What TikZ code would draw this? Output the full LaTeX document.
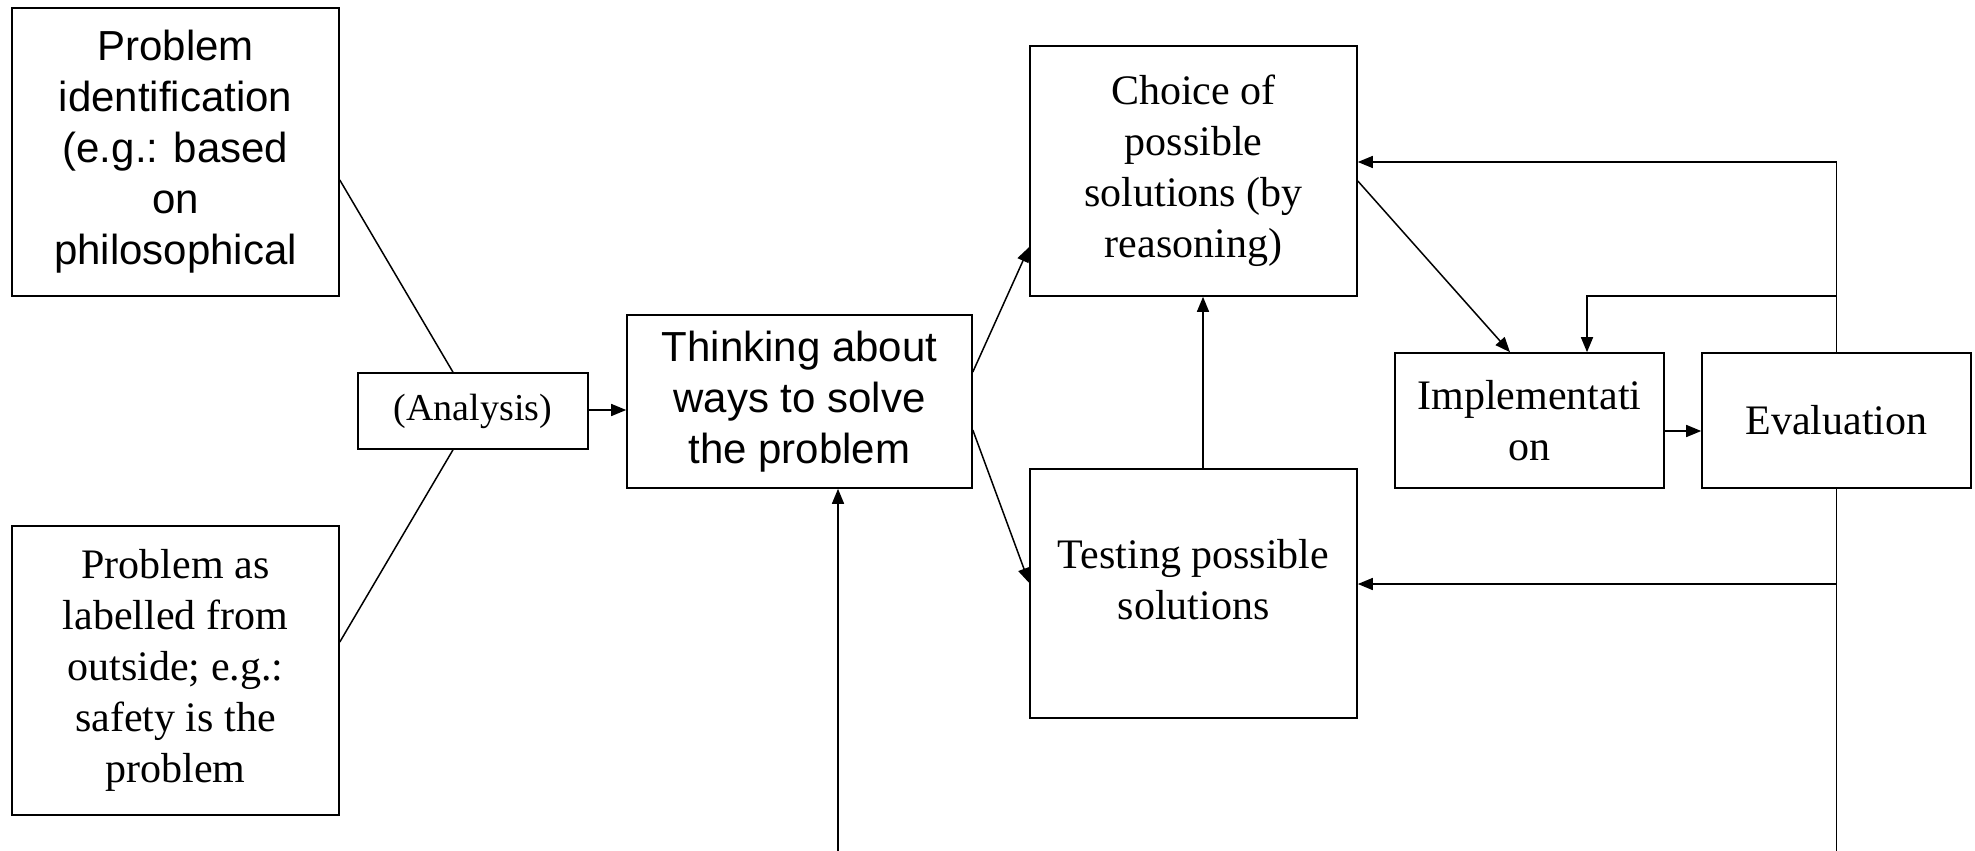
\documentclass[tikz,border=0pt]{standalone}
\usepackage{fontspec}
\setmainfont{Liberation Serif}
\setsansfont{Liberation Sans}
\usetikzlibrary{arrows.meta,calc}

\def\u{0.5pt}
\tikzset{
	box/.style={draw,line width=0.8pt,inner sep=0pt,align=center},
	wh/.style 2 args={minimum width=#1*\u,minimum height=#2*\u},
	txt/.style={font=\fontsize{21}{25.5}\selectfont},
	sanstxt/.style={font=\sffamily\fontsize{21}{25.5}\selectfont},
	arr/.style={-{Triangle[length=7.5pt,width=6pt]}},
}

\begin{document}
\begin{tikzpicture}[x=0.5pt,y=-0.5pt,line width=0.75pt]
	\useasboundingbox (0,0) rectangle (1975,851);
	% boxes
	\node[box,wh={327}{288},sanstxt] (pi) at (175.5,152)
		{Problem\\identification\\(e.g.: based\\on\\philosophical};
	\node[box,wh={327}{289},txt] (pl) at (175.5,670.5)
		{Problem as\\labelled from\\outside; e.g.:\\safety is the\\problem};
	\node[box,wh={230}{76},font=\fontsize{19}{23}\selectfont] (ana) at (473,411) {(Analysis)};
	\node[box,wh={345}{173},sanstxt] (think) at (799.5,401.5)
		{Thinking about\\ways to solve\\the problem};
	\node[box,wh={327}{250},txt] (choice) at (1193.5,171)
		{Choice of\\possible\\solutions (by\\reasoning)};
	\node[box,wh={327}{249}] (test) at (1193.5,593.5) {};
	\node[txt,align=center] (testlbl) at ($(test.center)+(0,-14)$)
		{Testing possible\\solutions};
	\node[box,wh={269}{135},txt] (impl) at (1529.5,420.5)
		{Implementati\\on};
	\node[box,wh={269}{135},txt] (eval) at (1836.5,420.5) {Evaluation};
	%\coordinate (mid) at ($(impl)!.5!(eval)$);
	\coordinate (botT) at (838,851);
	\coordinate (botE) at (eval.south |- 0,851);
	% connectors
	\draw (pi.east |- 0,180) -- (ana.north -| 453,0);
	\draw (pl.east |- 0,642) -- (ana.south -| 453,0);
	\draw[arr] (ana.east |- 0,410) -- (think.west |- 0,410);
	\draw[arr] (think.east |- 0,372) -- (choice.west |- 0,247);
	\draw[arr] (think.east |- 0,430) -- (test.west |- 0,583);
	\draw[arr] (test.north -| 1203,0) -- (choice.south -| 1203,0);
	\draw[arr] (choice.east |- 0,181) -- (impl.north -| 1510,0);
	\draw[arr] (impl.east |- 0,431) -- (eval.west |- 0,431);
	\draw[arr] (eval.north) |- (choice.east |- 0,162);
	\draw[arr] (eval.north |- 0,296) -| (impl.north -| 1587,0);
	\draw (eval.south) -- (botE);
	\draw[arr] (eval.south |- 0,584) -- (test.east |- 0,584);
	\draw[arr] (botT) -- (think.south -| botT);
\end{tikzpicture}
\end{document}
